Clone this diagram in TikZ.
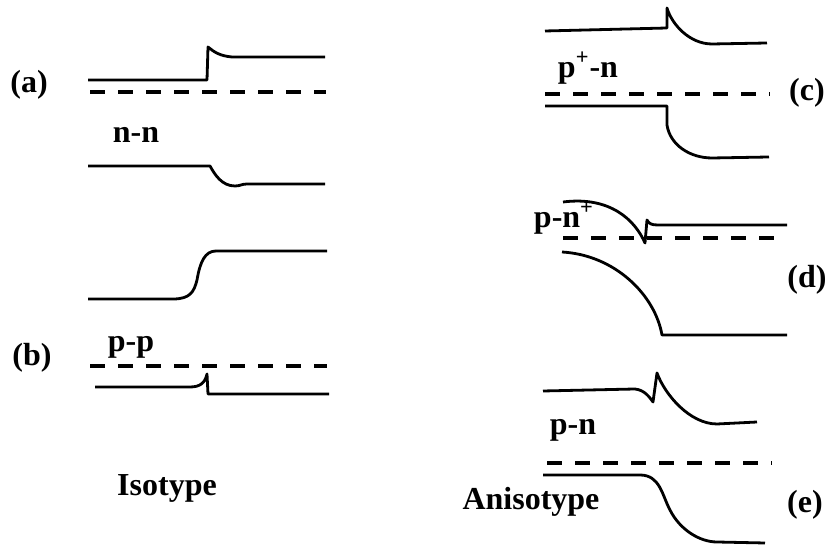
\documentclass[tikz,border=0pt]{standalone}
\usepackage{fontspec}
\setmainfont{Liberation Serif}
\usepackage{tikz}
\usetikzlibrary{positioning}
\usepackage{xcolor}
\definecolor{ink}{RGB}{0,0,0}
\tikzset{
  band/.style={draw=ink,line width=1.4pt,line join=round},
  fermi/.style={draw=ink,line width=1.6pt,dash pattern=on 7.5pt off 6.5pt},
  lbl/.style={inner sep=0pt,font=\fontsize{16}{19}\selectfont\bfseries,text=ink},
}
\begin{document}
\begin{tikzpicture}[x=0.5pt,y=-0.5pt]
\useasboundingbox (0,0) rectangle (826,549);
% isotype, n-n
\draw[band] (88,80) -- (207,80) -- (208,47) .. controls (214,52) and (220,56) .. (232,57) -- (325,57);
\draw[fermi] (90,92) -- (326,92);
\draw[band] (88,166) -- (210,166) .. controls (215,175) and (222,186) .. (235,186)
  .. controls (240,186) and (242,184) .. (247,184) -- (325,184);
% isotype, p-p
\draw[band] (88,299) -- (173,299) .. controls (190,299) and (194,292) .. (197,280)
  .. controls (200,262) and (205,251) .. (216,251) -- (327,251);
\draw[fermi] (90,366) -- (327,366);
\draw[band] (95,387) -- (190,387) .. controls (200,387) and (205,383) .. (207,374) -- (208,394) -- (329,394);
% anisotype, p+-n
\draw[band] (545,31) -- (667,28) -- (667,8) .. controls (672,25) and (690,44) .. (712,44) -- (767,43);
\draw[fermi] (545,94) -- (770,94);
\draw[band] (545,106) -- (667,106) -- (667,125) .. controls (670,145) and (690,158) .. (712,158) -- (769,157);
% anisotype, p-n+
\draw[band] (563,202) .. controls (610,196) and (635,220) .. (645,243) -- (647,220)
  .. controls (649,224) and (652,225) .. (658,225) -- (787,225);
\draw[fermi] (563,238) -- (787,238);
\draw[band] (562,252) .. controls (615,255) and (655,295) .. (662,335) -- (787,335);
% anisotype, p-n
\draw[band] (543,391) -- (635,389) .. controls (645,390) and (650,398) .. (653,402) -- (657,373)
  .. controls (665,395) and (690,424) .. (717,424) -- (757,422);
\draw[fermi] (547,463) -- (772,463);
\draw[band] (543,475) -- (640,475) .. controls (660,475) and (662,495) .. (670,510)
  .. controls (680,530) and (700,542) .. (717,542) -- (765,543);
% labels
\node[lbl] (la) at (29,85) {(a)};
\node[lbl] (lb) at (32,358) {(b)};
\node[lbl] (lc) at (807,93) {(c)};
\node[lbl] (ld) at (807,280) {(d)};
\node[lbl] (le) at (805,505) {(e)};
\node[lbl] (nn) at (136,135) {n-n};
\node[lbl] (pp) at (131,347) {p-p};
\node[lbl] (ppn) at (588,68) {p\textsuperscript{+}-n};
\node[lbl] (pnp) at (564,218) {p-n\textsuperscript{+}};
\node[lbl] (pn) at (573,430) {p-n};
\node[lbl] (iso) at (167,488) {Isotype};
\node[lbl] (aniso) at (531,502) {Anisotype};
\end{tikzpicture}
\end{document}
